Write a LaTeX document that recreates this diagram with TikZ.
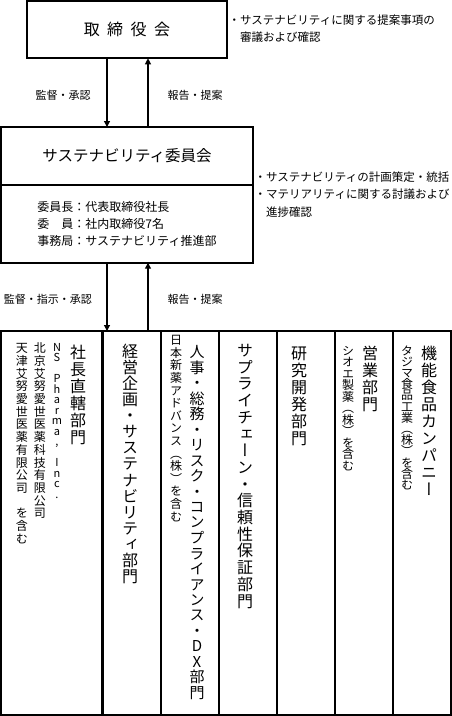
\documentclass[tikz,border=0pt]{standalone}
\usepackage{fontspec}
\setmainfont{Noto Sans CJK JP}
\newfontfamily\vjp{Noto Sans CJK JP}[RawFeature=+vert]
\usetikzlibrary{arrows.meta}
\makeatletter
\newcommand\vstack[3]{%
  \vbox{\offinterlineskip\XeTeXuseglyphmetrics=0
    \vjp\fontsize{#1}{#2}\selectfont
    \def\vt@p{#2}\def\vt@w{#1}%
    \@tfor\vt@c:=#3\do{\vbox to \vt@p{\vss\hbox to \vt@w{\hss\vt@c\hss}\vss}}}}
\makeatother
\begin{document}
\begin{tikzpicture}[x=1pt,y=-1pt,
  box/.style={draw, line width=2pt, inner sep=0pt, outer sep=0pt},
  cell/.style={draw, line width=2pt, inner sep=0pt, outer sep=0pt, minimum width=58pt, minimum height=383.6pt},
  arr/.style={line width=1.2pt, -{Triangle[width=6pt,length=6pt]}},
  lbl/.style={font=\fontsize{11pt}{13pt}\selectfont, inner sep=0pt},
  note/.style={align=left, inner sep=0pt, anchor=west},
  vt/.style={anchor=north, inner sep=0pt}]
\useasboundingbox (0,0) rectangle (452,716);
% top box
\node[box, minimum width=200pt, minimum height=57.3pt, font=\fontsize{16pt}{18pt}\selectfont] (board) at (127,29.65) {取\hspace{7.5pt}締\hspace{7.5pt}役\hspace{7.5pt}会};
\node[note, font=\fontsize{11.5pt}{17pt}\selectfont] (note1) at (228.5,28.5) {・サステナビリティに関する提案事項の\\　審議および確認};
% committee
\node[box, minimum width=252pt, minimum height=58pt, font=\fontsize{15.5pt}{18pt}\selectfont] (comm) at (127,156) {サステナビリティ委員会};
\node[box, minimum width=252pt, minimum height=77.7pt, anchor=north, align=left, font=\fontsize{12pt}{17pt}\selectfont] (commbody) at (comm.south) {委員長：代表取締役社長\\委　員：社内取締役7名\\事務局：サステナビリティ推進部};
\node[note, font=\fontsize{11.5pt}{17.5pt}\selectfont] (note2) at (254.5,194.5) {・サステナビリティの計画策定・統括\\・マテリアリティに関する討議および\\　進捗確認};
% table cells
\node[cell, minimum width=101.3pt] (c1) at (51.65,522.8) {};
\node[cell] (c2) at (131.5,522.8) {};
\node[cell] (c3) at (189.7,522.8) {};
\node[cell] (c4) at (247.7,522.8) {};
\node[cell] (c5) at (305.7,522.8) {};
\node[cell] (c6) at (363.7,522.8) {};
\node[cell] (c7) at (421.75,522.8) {};
% labels
\node[lbl] (l1) at (63,95) {監督・承認};
\node[lbl] (l2) at (195,95) {報告・提案};
\node[lbl] (l3) at (48,299) {監督・指示・承認};
\node[lbl] (l4) at (195,299) {報告・提案};
% arrows
\coordinate (xa) at (107,0);
\coordinate (xb) at (148,0);
\draw[arr] (board.south -| xa) -- (comm.north -| xa);
\draw[arr] (comm.north -| xb) -- (board.south -| xb);
\draw[arr] (commbody.south -| xa) -- (c2.north -| xa);
\draw[arr] (c2.north -| xb) -- (commbody.south -| xb);
% vertical texts
\node[vt] (t1) at (78,343) {\vstack{16pt}{17pt}{社長直轄部門}};
\node[vt] (t1a) at (57,341) {\vstack{11pt}{10.5pt}{NS{~}Pharma,{~}Inc.}};
\node[vt] (t1b) at (40,341) {\vstack{12pt}{12.7pt}{北京艾努愛世医薬科技有限公司}};
\node[vt] (t1c) at (22,341) {\vstack{12pt}{12.7pt}{天津艾努愛世医薬有限公司{~}を含む}};
\node[vt] (t2) at (130,342) {\vstack{16pt}{16.1pt}{経営企画・サステナビリティ部門}};
\node[vt] (t3) at (197,343) {\vstack{15pt}{15.5pt}{人事・総務・リスク・コンプライアンス・DX部門}};
\node[vt] (t3a) at (176,333) {\vstack{12pt}{12.6pt}{日本新薬アドバンス（株）を含む}};
\node[vt] (t4) at (245,341) {\vstack{16pt}{16.7pt}{サプライチェーン・信頼性保証部門}};
\node[vt] (t5) at (299,344) {\vstack{16pt}{17pt}{研究開発部門}};
\node[vt] (t6) at (370,344) {\vstack{16pt}{17pt}{営業部門}};
\node[vt] (t6a) at (348,344) {\vstack{12pt}{11.5pt}{シオエ製薬（株）を含む}};
\node[vt] (t7) at (429,344) {\vstack{16pt}{17pt}{機能食品カンパニー}};
\node[vt] (t7a) at (407,344) {\vstack{12pt}{11.2pt}{タジマ食品工業（株）を含む}};
\end{tikzpicture}
\end{document}
